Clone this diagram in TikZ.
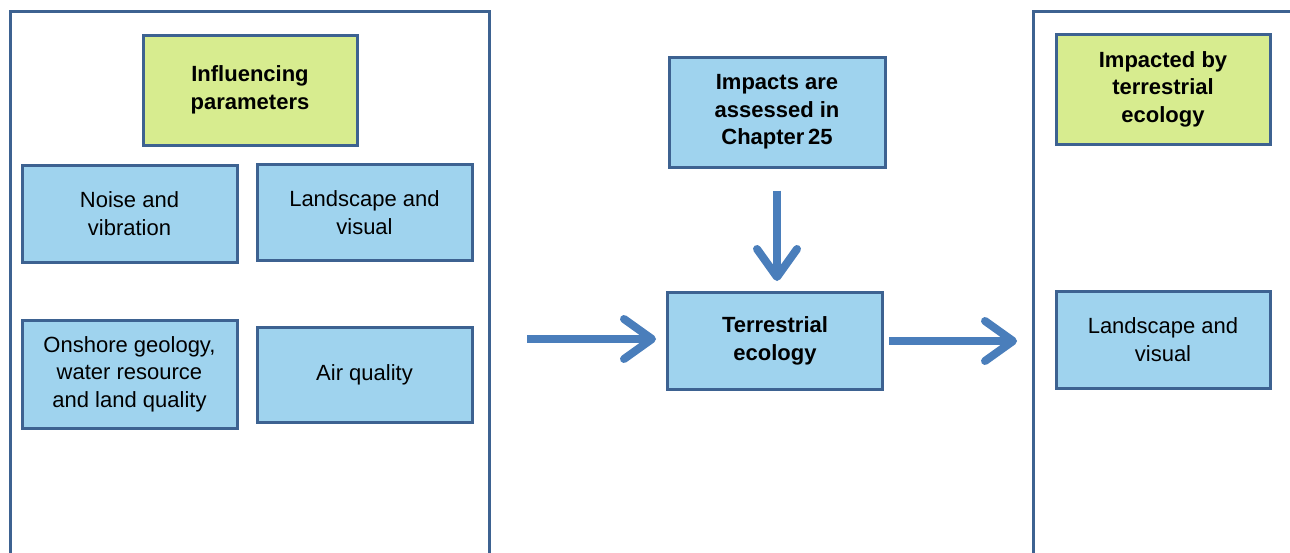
\documentclass[tikz,border=0pt]{standalone}
\usepackage{fontspec}
\setmainfont{Liberation Sans}
\usetikzlibrary{arrows.meta}
\definecolor{boxblue}{HTML}{9FD3EE}
\definecolor{boxgreen}{HTML}{D7EC8F}
\definecolor{edgeblue}{HTML}{3D6291}
\definecolor{arrowblue}{HTML}{4A7EBB}
\begin{document}
\begin{tikzpicture}[x=1pt,y=-1pt,
  card/.style={draw=edgeblue, line width=3pt, rectangle, align=center,
    inner sep=0pt, font=\fontsize{22}{27.5}\selectfont},
  bluecard/.style={card, fill=boxblue},
  greencard/.style={card, fill=boxgreen, font=\fontsize{22}{27.5}\selectfont\bfseries},
  frame/.style={draw=edgeblue, line width=3pt},
  flow/.style={draw=arrowblue, line width=8pt,
    -{Straight Barb[length=28pt,width=40pt,round]}}]
\useasboundingbox (0,0) rectangle (1290,552);
\clip (0,0) rectangle (1290,552);

% group frames, open at the page edge
\draw[frame] (10,570) -- (10,11) -- (489,11) -- (489,570);
\draw[frame] (1033,570) -- (1033,11) -- (1310,11);

% left group: influencing parameters
\node[greencard, minimum width=214pt, minimum height=110pt] (infl) at (250,90)
  {Influencing\\parameters};
\node[bluecard, minimum width=215pt, minimum height=97pt] (noise) at (129.5,213.5)
  {Noise and\\vibration};
\node[bluecard, minimum width=215pt, minimum height=96pt] (landL) at (364.5,212.5)
  {Landscape and\\visual};
\node[bluecard, minimum width=215pt, minimum height=108pt] (onshore) at (129.5,374)
  {Onshore geology,\\water resource\\and land quality};
\node[bluecard, minimum width=215pt, minimum height=95pt] (air) at (364.5,374.5)
  {Air quality};

% centre: topic and chapter reference
\node[bluecard, minimum width=216pt, minimum height=110pt,
  font=\fontsize{22}{27.5}\selectfont\bfseries] (impacts) at (777,112)
  {Impacts are\\assessed in\\Chapter\,25};
\node[bluecard, minimum width=215pt, minimum height=97pt,
  font=\fontsize{22}{27.5}\selectfont\bfseries] (terr) at (775,341)
  {Terrestrial\\ecology};

% right group: receptors
\node[greencard, minimum width=214pt, minimum height=110pt] (impacted) at (1163,89)
  {Impacted by\\terrestrial\\ecology};
\node[bluecard, minimum width=214pt, minimum height=97pt] (landR) at (1163,339.5)
  {Landscape and\\visual};

% flow arrows
\coordinate (inflow) at (527,339);
\coordinate (outflow) at (1017,341);
\draw[flow, shorten <=22pt, shorten >=10pt] (impacts.south) -- (impacts.south |- terr.north);
\draw[flow, shorten >=10pt] (inflow) -- (inflow -| terr.west);
\draw[flow, shorten <=5pt] (terr.east) -- (outflow);
\end{tikzpicture}
\end{document}
